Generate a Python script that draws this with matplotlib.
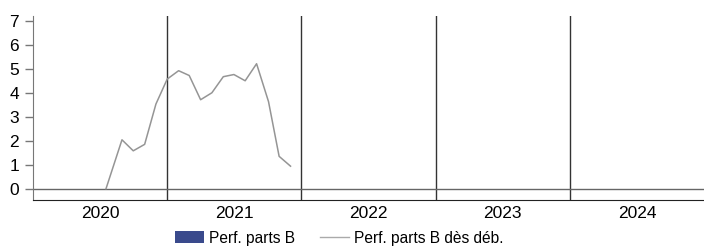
import matplotlib
matplotlib.use("Agg")
import matplotlib.pyplot as plt
from matplotlib.patches import Patch
from matplotlib.lines import Line2D

plt.rcParams['font.family'] = ['Liberation Sans', 'DejaVu Sans']

years = ["2020", "2021", "2022", "2023", "2024"]
bar_values = [None, None, None, None, None]  # Perf. parts B (no values shown)

# cumulative performance since launch (x in year-category units)
line_x = [0.544, 0.663, 0.747, 0.832, 0.916, 1.0, 1.085, 1.164, 1.249,
          1.333, 1.418, 1.497, 1.581, 1.666, 1.755, 1.834, 1.919]
line_y = [0.0, 2.04, 1.58, 1.85, 3.53, 4.57, 4.92, 4.72, 3.71,
          4.0, 4.67, 4.76, 4.5, 5.21, 3.63, 1.35, 0.94]

yticks = [0, 1, 2, 3, 4, 5, 6, 7]

fig = plt.figure(figsize=(7.04, 2.48), dpi=100)
ax = fig.add_axes([33/704, 48/248, 671/704, 184/248])

ax.set_xlim(0, len(years))
ax.set_ylim(-0.47, 7.2)

# category separators
for i in range(1, len(years)):
    ax.axvline(i, color='#333333', lw=1.0, zorder=1)
ax.axhline(0, color='#666666', lw=1.0, zorder=1)

ax.plot(line_x, line_y, color='#959595', lw=1.1, zorder=3)

ax.set_yticks(yticks)
ax.set_xticks([i + 0.5 for i in range(len(years))])
ax.set_xticklabels(years)
ax.tick_params(axis='x', length=0, pad=4, labelsize=12.5, colors='#000000')
ax.tick_params(axis='y', length=6, width=1, color='#777777', pad=4, labelsize=12.5)

for s in ['top', 'right']:
    ax.spines[s].set_visible(False)
ax.spines['left'].set_color('#777777')
ax.spines['bottom'].set_color('#222222')

handles = [Patch(facecolor='#3a4a8c', edgecolor='none', label='Perf. parts B'),
           Line2D([], [], color='#aaaaaa', lw=1.0, label='Perf. parts B dès déb.')]
fig.legend(handles=handles, loc='center', bbox_to_anchor=(339/704, 10/248), ncol=2,
           frameon=False, fontsize=11.2, handlelength=1.9, handleheight=0.75,
           columnspacing=1.6, handletextpad=0.3, borderpad=0, borderaxespad=0)

fig.savefig("out.png", dpi=100)
